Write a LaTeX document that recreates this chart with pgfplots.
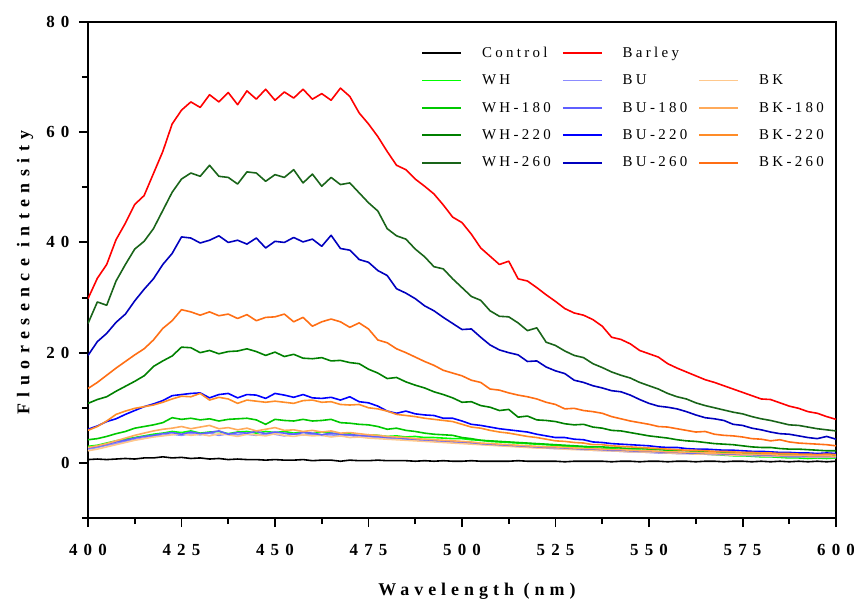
\documentclass[border=0pt]{standalone}
\usepackage{pgfplots}
\usepackage{pgfplotstable}
\pgfplotsset{compat=1.18}
\usepackage{fontspec}
\setmainfont{Liberation Serif}
\newcommand\legfont{\addfontfeatures{LetterSpace=22}\fontsize{15}{15}\selectfont}
\newcommand\tickfont{\bfseries\addfontfeatures{LetterSpace=36}\fontsize{17}{17}\selectfont}
\newcommand\xlabfont{\bfseries\addfontfeatures{LetterSpace=28}\fontsize{18}{18}\selectfont}
\newcommand\ylabfont{\bfseries\addfontfeatures{LetterSpace=36}\fontsize{18}{18}\selectfont}
\definecolor{cbar}{RGB}{255,0,0}
\definecolor{cwh}{RGB}{0,255,0}
\definecolor{cwh180}{RGB}{0,200,0}
\definecolor{cwh220}{RGB}{0,128,0}
\definecolor{cwh260}{RGB}{25,100,25}
\definecolor{cbu}{RGB}{140,140,255}
\definecolor{cbu180}{RGB}{95,95,255}
\definecolor{cbu220}{RGB}{0,0,255}
\definecolor{cbu260}{RGB}{0,0,190}
\definecolor{cbk}{RGB}{255,200,140}
\definecolor{cbk180}{RGB}{255,170,90}
\definecolor{cbk220}{RGB}{255,140,40}
\definecolor{cbk260}{RGB}{255,110,20}
\pgfplotstableread{
x bar wh260 bu260 bk260 wh220 bu220 bk220 wh180 bu180 bk180 wh bu bk ctl
400 29.8 25.3 19.5 13.5 10.8 6.1 5.9 4.2 2.7 2.8 3.0 2.5 2.2 0.6
402.5 33.5 29.2 22.0 14.6 11.5 6.7 6.6 4.4 3.0 3.1 3.2 2.8 2.5 0.7
405 36.0 28.6 23.5 15.9 12.0 7.5 7.6 4.8 3.4 3.5 3.6 3.2 2.9 0.6
407.5 40.5 33.0 25.5 17.2 13.0 8.0 8.8 5.3 3.8 4.0 4.0 3.5 3.3 0.7
410 43.5 36.0 27.0 18.4 13.9 8.8 9.4 5.7 4.1 4.5 4.3 3.9 3.7 0.8
412.5 46.9 38.8 29.4 19.6 14.8 9.5 9.9 6.3 4.5 5.0 4.6 4.2 4.1 0.7
415 48.5 40.2 31.5 20.7 15.8 10.2 10.2 6.6 4.8 5.4 4.9 4.5 4.4 0.9
417.5 52.5 42.5 33.4 22.3 17.5 10.7 10.5 6.9 5.0 5.8 5.2 4.8 4.7 0.9
420 56.5 45.8 36.0 24.4 18.5 11.3 11.0 7.3 5.3 6.1 5.4 5.0 4.9 1.1
422.5 61.5 49.1 38.0 25.8 19.4 12.2 11.6 8.2 5.5 6.3 5.7 5.2 5.1 0.9
425 64.0 51.5 41.0 27.8 21.0 12.4 12.1 7.9 5.2 6.6 5.5 5.0 5.3 1.0
427.5 65.5 52.6 40.8 27.4 20.9 12.6 12.0 8.1 5.6 6.2 5.8 5.3 5.0 0.8
430 64.5 52.0 39.9 26.8 20.0 12.7 12.6 7.8 5.3 6.5 5.4 5.1 5.2 0.9
432.5 66.8 54.0 40.4 27.4 20.4 11.8 11.4 8.0 5.5 6.8 5.6 5.4 4.9 0.7
435 65.5 52.0 41.2 26.7 19.8 12.4 11.9 7.6 5.8 6.2 5.7 5.0 5.3 0.8
437.5 67.2 51.8 40.0 27.0 20.2 12.6 11.6 7.9 5.2 6.4 5.3 5.3 5.1 0.6
440 65.0 50.6 40.4 26.2 20.3 11.8 10.8 8.0 5.5 6.0 5.6 5.1 4.8 0.7
442.5 67.5 52.8 39.7 26.9 20.7 12.4 11.4 8.1 5.4 6.3 5.7 5.2 5.2 0.6
445 66.0 52.6 40.8 25.8 20.2 12.3 11.2 7.8 5.7 5.8 5.4 5.0 5.1 0.6
447.5 67.8 51.1 39.0 26.4 19.5 11.7 11.0 7.0 5.3 6.1 5.7 5.3 4.9 0.5
450 65.8 52.3 40.2 26.5 20.1 12.6 11.2 7.9 5.6 6.4 5.5 5.2 5.3 0.6
452.5 67.3 51.8 40.0 27.0 19.3 12.3 11.0 7.7 5.4 5.9 5.7 4.9 5.0 0.5
455 66.2 53.2 40.9 25.6 19.7 11.9 10.8 7.6 5.2 6.0 5.4 5.3 4.8 0.5
457.5 67.8 50.8 40.1 26.4 19.0 12.4 11.3 7.9 5.5 5.7 5.6 5.1 5.1 0.6
460 66.0 52.4 40.6 24.8 18.9 11.8 11.4 7.6 5.4 5.9 5.3 5.2 4.9 0.4
462.5 67.0 50.2 39.3 25.6 19.1 11.7 11.0 7.7 5.1 5.6 5.6 5.0 5.0 0.5
465 65.8 51.8 41.3 26.1 18.5 11.9 11.1 7.9 5.4 5.8 5.4 5.1 4.7 0.5
467.5 68.0 50.5 38.9 25.6 18.6 11.4 10.6 7.3 5.2 5.4 5.2 4.9 4.9 0.3
470 66.5 50.8 38.6 24.6 18.2 12.0 10.5 7.2 5.1 5.5 5.3 5.0 4.6 0.5
472.5 63.5 49.0 36.9 25.4 18.0 11.1 10.6 7.0 5.0 5.3 4.8 4.7 4.7 0.4
475 61.5 47.2 36.4 24.3 17.0 10.9 10.0 6.9 4.9 5.1 5.1 4.8 4.5 0.4
477.5 59.2 45.7 34.9 22.3 16.3 10.3 9.8 6.6 4.8 5.0 5.0 4.5 4.4 0.5
480 56.5 42.5 34.0 21.8 15.3 9.4 9.4 6.1 4.6 4.8 4.8 4.6 4.3 0.4
482.5 54.0 41.2 31.6 20.7 15.5 9.0 8.8 6.3 4.6 4.7 4.9 4.4 4.2 0.4
485 53.2 40.6 30.8 20.0 14.7 9.4 8.6 5.9 4.4 4.6 4.7 4.3 4.1 0.4
487.5 51.5 38.8 29.8 19.2 14.1 8.9 8.4 5.7 4.3 4.4 4.8 4.2 4.0 0.3
490 50.2 37.4 28.5 18.4 13.6 8.7 8.1 5.4 4.2 4.3 4.6 4.1 3.9 0.4
492.5 48.8 35.6 27.6 17.7 12.9 8.6 7.9 5.2 4.1 4.2 4.6 3.9 3.8 0.3
495 46.8 35.2 26.4 16.8 12.4 8.1 7.7 5.1 4.0 4.1 4.5 3.9 3.7 0.4
497.5 44.6 33.4 25.3 16.3 11.8 8.1 7.5 5.0 3.9 4.0 4.4 3.7 3.6 0.3
500 43.6 31.8 24.2 15.8 11.0 7.6 7.0 4.6 3.8 3.9 4.4 3.7 3.5 0.3
502.5 41.5 30.2 24.3 15.0 11.1 7.0 6.5 4.4 3.7 3.8 4.2 3.5 3.4 0.4
505 39.0 29.5 22.8 14.6 10.4 6.8 6.3 4.1 3.5 3.6 4.1 3.4 3.3 0.3
507.5 37.5 27.6 21.4 13.4 10.1 6.5 5.9 4.0 3.4 3.5 3.9 3.3 3.2 0.3
510 36.0 26.6 20.5 13.2 9.5 6.2 5.6 3.9 3.3 3.4 3.8 3.2 3.1 0.3
512.5 36.6 26.5 20.0 12.7 9.7 6.0 5.4 3.8 3.2 3.3 3.7 3.1 3.0 0.3
515 33.4 25.4 19.6 12.3 8.3 5.8 5.1 3.7 3.1 3.2 3.6 3.0 2.9 0.4
517.5 33.0 24.0 18.4 12.0 8.5 5.6 4.8 3.6 3.0 3.1 3.5 2.9 2.8 0.3
520 31.8 24.5 18.5 11.6 7.8 5.2 4.6 3.5 2.9 3.0 3.4 2.8 2.7 0.3
522.5 30.5 21.9 17.4 11.0 7.7 4.9 4.3 3.4 2.8 2.9 3.3 2.7 2.7 0.3
525 29.3 21.3 16.7 10.6 7.5 4.6 4.0 3.3 2.8 2.9 3.2 2.6 2.6 0.3
527.5 28.0 20.3 16.2 9.8 7.1 4.6 3.9 3.2 2.7 2.8 3.0 2.6 2.5 0.2
530 27.2 19.5 15.0 9.9 6.9 4.3 3.7 3.1 2.6 2.7 2.9 2.5 2.4 0.3
532.5 26.8 19.1 14.6 9.5 7.0 4.2 3.6 3.0 2.5 2.6 2.9 2.4 2.4 0.3
535 26.0 18.0 14.0 9.3 6.5 3.8 3.3 2.9 2.5 2.6 2.7 2.3 2.3 0.3
537.5 24.8 17.3 13.6 9.0 6.3 3.7 3.3 2.9 2.4 2.5 2.6 2.3 2.2 0.3
540 22.8 16.5 13.1 8.4 5.9 3.5 3.1 2.8 2.3 2.4 2.6 2.2 2.2 0.2
542.5 22.4 15.9 12.9 8.0 5.8 3.4 3.0 2.7 2.3 2.4 2.4 2.1 2.1 0.3
545 21.6 15.4 12.3 7.6 5.5 3.3 2.9 2.6 2.2 2.3 2.3 2.0 2.0 0.3
547.5 20.4 14.6 11.5 7.3 5.2 3.2 2.8 2.6 2.1 2.2 2.3 2.0 2.0 0.2
550 19.8 14.0 10.8 7.0 4.9 3.1 2.7 2.5 2.1 2.2 2.2 1.9 1.9 0.3
552.5 19.2 13.4 10.3 6.6 4.7 2.9 2.6 2.4 2.0 2.1 2.0 1.8 1.9 0.3
555 18.0 12.6 10.1 6.5 4.5 2.8 2.5 2.3 1.9 2.0 1.9 1.8 1.8 0.2
557.5 17.2 12.0 9.8 6.2 4.2 2.8 2.4 2.3 1.9 2.0 1.9 1.7 1.7 0.3
560 16.5 11.6 9.3 5.9 4.0 2.6 2.3 2.2 1.8 1.9 1.8 1.7 1.7 0.3
562.5 15.8 10.9 8.7 5.6 3.9 2.5 2.3 2.1 1.8 1.9 1.6 1.6 1.6 0.2
565 15.1 10.4 8.2 5.7 3.7 2.5 2.2 2.0 1.7 1.8 1.6 1.6 1.6 0.3
567.5 14.6 10.0 8.0 5.2 3.5 2.4 2.1 2.0 1.7 1.8 1.5 1.5 1.5 0.3
570 14.0 9.6 7.7 5.0 3.4 2.3 2.1 1.9 1.6 1.7 1.4 1.5 1.5 0.2
572.5 13.4 9.2 7.0 4.9 3.3 2.3 2.0 1.9 1.6 1.7 1.3 1.4 1.4 0.3
575 12.8 8.9 6.8 4.7 3.1 2.2 1.9 1.8 1.5 1.6 1.3 1.4 1.4 0.3
577.5 12.2 8.4 6.3 4.4 2.9 2.1 1.9 1.8 1.5 1.6 1.2 1.3 1.4 0.2
580 11.6 8.0 6.0 4.3 2.8 2.1 1.8 1.7 1.4 1.5 1.1 1.3 1.3 0.3
582.5 11.5 7.7 5.6 4.0 2.8 2.0 1.8 1.6 1.4 1.5 1.1 1.2 1.3 0.2
585 10.9 7.3 5.3 4.2 2.6 1.9 1.7 1.6 1.3 1.4 1.0 1.2 1.2 0.3
587.5 10.3 6.9 5.2 3.8 2.5 1.9 1.7 1.5 1.3 1.4 0.9 1.1 1.2 0.2
590 9.9 6.8 4.9 3.6 2.5 1.8 1.6 1.5 1.3 1.4 0.9 1.1 1.2 0.3
592.5 9.3 6.5 4.6 3.5 2.4 1.8 1.6 1.4 1.2 1.3 0.8 1.1 1.1 0.2
595 9.0 6.2 4.4 3.4 2.3 1.7 1.5 1.4 1.2 1.3 0.9 1.0 1.1 0.3
597.5 8.4 6.0 4.8 3.3 2.2 1.8 1.6 1.3 1.2 1.3 0.8 1.0 1.1 0.2
600 7.9 5.8 4.3 3.1 2.2 1.7 1.5 1.3 1.1 1.2 0.9 1.0 1.0 0.3
}\spectra
\begin{document}
\begin{tikzpicture}
\path[use as bounding box] (-88bp,-85bp) rectangle (766bp,518bp);
\begin{axis}[
  at={(0,0)}, anchor=south west,
  scale only axis, width=748bp, height=496bp,
  xmin=400, xmax=600, ymin=-10, ymax=80,
  xtick={400,425,...,600},
  minor xtick={412.5,437.5,462.5,487.5,512.5,537.5,562.5,587.5},
  ytick={0,20,40,60,80},
  minor ytick={-10,10,30,50,70},
  tick align=outside, xtick pos=bottom, ytick pos=left,
  major tick length=9bp, minor tick length=6bp,
  tick style={black, line width=2pt},
  axis line style={line width=2.4pt},
  /pgf/number format/assume math mode=true,
  ticklabel style={font=\tickfont},
  xticklabel style={yshift=-14bp},
  yticklabel style={xshift=-6bp},
  xlabel={Wavelength (nm)},
  ylabel={Fluoresence intensity},
  xlabel style={at={(axis description cs:0.52,-0.147)}, anchor=center, font=\xlabfont},
  ylabel style={at={(axis description cs:-0.0842,0.495)}, anchor=center, font=\ylabfont},
  legend columns=3,
  legend cell align=left,
  legend image code/.code={\draw[#1, line width=1.9pt] (0bp,0bp) -- (39bp,0bp);},
  legend style={draw=none, fill=none, at={(rel axis cs:0.4425,0.958)}, anchor=north west,
    inner sep=2bp, nodes={inner sep=2bp},
    font=\legfont, row sep=12bp,
    /tikz/every odd column/.append style={column sep=18bp},
    /tikz/every even column/.append style={column sep=9bp}},
  every axis plot/.append style={line width=1.6pt, line join=round},
]
\addlegendimage{black}\addlegendentry{Control}
\addlegendimage{cbar}\addlegendentry{Barley}
\addlegendimage{opacity=0}\addlegendentry{}
\addlegendimage{cwh}\addlegendentry{WH}
\addlegendimage{cbu}\addlegendentry{BU}
\addlegendimage{cbk}\addlegendentry{BK}
\addlegendimage{cwh180}\addlegendentry{WH-180}
\addlegendimage{cbu180}\addlegendentry{BU-180}
\addlegendimage{cbk180}\addlegendentry{BK-180}
\addlegendimage{cwh220}\addlegendentry{WH-220}
\addlegendimage{cbu220}\addlegendentry{BU-220}
\addlegendimage{cbk220}\addlegendentry{BK-220}
\addlegendimage{cwh260}\addlegendentry{WH-260}
\addlegendimage{cbu260}\addlegendentry{BU-260}
\addlegendimage{cbk260}\addlegendentry{BK-260}
\addplot[black, forget plot] table[x=x, y=ctl] {\spectra};
\addplot[cbar, forget plot] table[x=x, y=bar] {\spectra};
\addplot[cwh, forget plot] table[x=x, y=wh] {\spectra};
\addplot[cbu, forget plot] table[x=x, y=bu] {\spectra};
\addplot[cbk, forget plot] table[x=x, y=bk] {\spectra};
\addplot[cwh180, forget plot] table[x=x, y=wh180] {\spectra};
\addplot[cbu180, forget plot] table[x=x, y=bu180] {\spectra};
\addplot[cbk180, forget plot] table[x=x, y=bk180] {\spectra};
\addplot[cwh220, forget plot] table[x=x, y=wh220] {\spectra};
\addplot[cbu220, forget plot] table[x=x, y=bu220] {\spectra};
\addplot[cbk220, forget plot] table[x=x, y=bk220] {\spectra};
\addplot[cwh260, forget plot] table[x=x, y=wh260] {\spectra};
\addplot[cbu260, forget plot] table[x=x, y=bu260] {\spectra};
\addplot[cbk260, forget plot] table[x=x, y=bk260] {\spectra};
\end{axis}
\end{tikzpicture}
\end{document}
